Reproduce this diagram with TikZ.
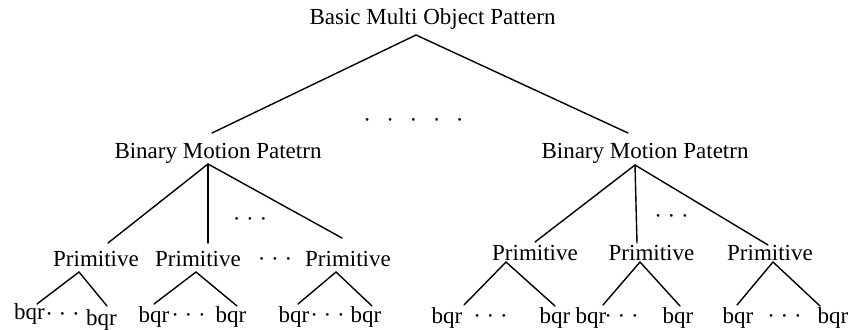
\documentclass[tikz,border=0pt]{standalone}
\usepackage{fontspec}
\setmainfont{Liberation Serif}
\begin{document}
\begin{tikzpicture}[x=1pt,y=-1pt,
  lbl/.style={inner sep=0pt, anchor=base, font=\fontsize{23}{27}\selectfont},
  edge/.style={line width=1.4pt, line cap=round}]
\useasboundingbox (0,0) rectangle (850,329);

% root
\node[lbl] (root) at (432.5,25) {Basic Multi Object Pattern};
\coordinate (rootap) at (416,35);
\node[lbl] (middots) at (413.5,127) {·\hspace{15.5pt}·\hspace{15.5pt}·\hspace{15.5pt}·\hspace{15.5pt}·};

% binary motion patterns
\node[lbl] (bmpL) at (218,158) {Binary Motion Patetrn};
\node[lbl] (bmpR) at (645,158) {Binary Motion Patetrn};
\coordinate (bmpLtop) at (212,133);
\coordinate (bmpRtop) at (628,133);
\coordinate (bmpLap) at (208,164);
\coordinate (bmpRap) at (635,165);
\draw[edge] (bmpLtop) -- (rootap) -- (bmpRtop);

% left primitives
\node[lbl] (pL1) at (96,266) {Primitive};
\node[lbl] (pL2) at (198,266) {Primitive};
\node[lbl] (pLd) at (275,266) {·\ ·\ ·};
\node[lbl] (pL3) at (348,266) {Primitive};
\node[lbl] (bLd) at (250,226) {·\ ·\ ·};
\coordinate (pL1top) at (108,243);
\coordinate (pL2top) at (208,243);
\coordinate (pL3top) at (342,238);
\draw[edge] (bmpLap) -- (pL1top);
\draw[edge] (bmpLap) -- (pL2top);
\draw[edge] (bmpLap) -- (pL3top);

% right primitives
\node[lbl] (pR1) at (535,260) {Primitive};
\node[lbl] (pR2) at (651.5,260) {Primitive};
\node[lbl] (pR3) at (770,260) {Primitive};
\node[lbl] (bRd) at (671.5,223) {·\ ·\ ·};
\coordinate (pR1top) at (535,242);
\coordinate (pR2top) at (637,243);
\coordinate (pR3top) at (768,245);
\draw[edge] (bmpRap) -- (pR1top);
\draw[edge] (bmpRap) -- (pR2top);
\draw[edge] (bmpRap) -- (pR3top);

% apexes of primitives
\coordinate (aL1) at (79,272);
\coordinate (aL2) at (196,272);
\coordinate (aL3) at (336,272);
\coordinate (aR1) at (506,262);
\coordinate (aR2) at (640,262);
\coordinate (aR3) at (773,262);

% leaves left
\node[lbl] (qL1a) at (29.5,319) {bqr};
\node[lbl] (dL1) at (62.5,321) {·\ ·\ ·};
\node[lbl] (qL1b) at (101.5,325) {bqr};
\node[lbl] (qL2a) at (154,322) {bqr};
\node[lbl] (dL2) at (188.5,322) {·\ ·\ ·};
\node[lbl] (qL2b) at (231,322) {bqr};
\node[lbl] (qL3a) at (294,322) {bqr};
\node[lbl] (dL3) at (327.5,322) {·\ ·\ ·};
\node[lbl] (qL3b) at (366,322) {bqr};

% leaves right
\node[lbl] (qR1a) at (447,323) {bqr};
\node[lbl] (dR1) at (490.5,323) {·\ ·\ ·};
\node[lbl] (qR1b) at (555,323) {bqr};
\node[lbl] (qR2a) at (591,323) {bqr};
\node[lbl] (dR2) at (621.5,323) {·\ ·\ ·};
\node[lbl] (qR2b) at (678,323) {bqr};
\node[lbl] (qR3a) at (738,323) {bqr};
\node[lbl] (dR3) at (784.5,323) {·\ ·\ ·};
\node[lbl] (qR3b) at (833,323) {bqr};

% leaf connector ends
\coordinate (eL1a) at (37,304);   \coordinate (eL1b) at (107,306);
\coordinate (eL2a) at (154,304);  \coordinate (eL2b) at (237,306);
\coordinate (eL3a) at (298,304);  \coordinate (eL3b) at (372,306);
\coordinate (eR1a) at (464,305);  \coordinate (eR1b) at (555,306);
\coordinate (eR2a) at (603,305);  \coordinate (eR2b) at (680,306);
\coordinate (eR3a) at (737,305);  \coordinate (eR3b) at (820,306);

\draw[edge] (eL1a) -- (aL1) -- (eL1b);
\draw[edge] (eL2a) -- (aL2) -- (eL2b);
\draw[edge] (eL3a) -- (aL3) -- (eL3b);
\draw[edge] (eR1a) -- (aR1) -- (eR1b);
\draw[edge] (eR2a) -- (aR2) -- (eR2b);
\draw[edge] (eR3a) -- (aR3) -- (eR3b);
\end{tikzpicture}
\end{document}
